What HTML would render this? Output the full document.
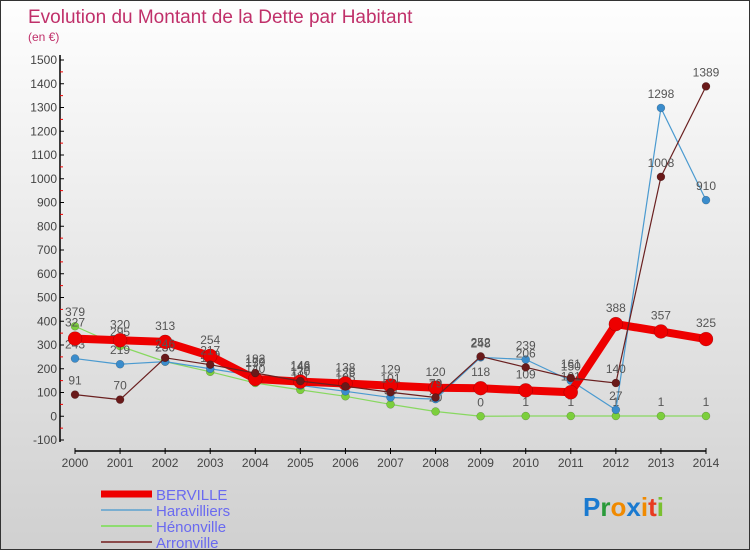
<!DOCTYPE html>
<html><head><meta charset="utf-8">
<style>
html,body{margin:0;padding:0;}
body{width:750px;height:550px;overflow:hidden;font-family:"Liberation Sans",sans-serif;}
#wrap{position:relative;width:748px;height:548px;border:1px solid #333;background:linear-gradient(#fefefe,#d0d0d0);}
</style></head>
<body>
<div id="wrap">
<svg id="chart" width="748" height="548" xmlns="http://www.w3.org/2000/svg"></svg>
</div>
<script>
const years=[2000,2001,2002,2003,2004,2005,2006,2007,2008,2009,2010,2011,2012,2013,2014];
const berville=[327,320,313,254,157,146,138,129,120,118,109,101,388,357,325];
const haravilliers=[243,219,230,200,170,130,105,79,72,248,239,150,27,1298,910];
const henonville=[379,295,230,187,140,111,84,50,20,0,1,1,1,1,1];
const arronville=[91,70,246,217,182,148,126,101,79,252,206,161,140,1008,1389];
const yTicks=[-100,0,100,200,300,400,500,600,700,800,900,1000,1100,1200,1300,1400,1500];

const svg=document.getElementById('chart');
const NS='http://www.w3.org/2000/svg';
const x0=74,x1=705,yTop=59,yBot=439,vMin=-100,vMax=1500;
function X(i){return x0+(x1-x0)*i/(years.length-1);}
function Y(v){return yBot-(v-vMin)*(yBot-yTop)/(vMax-vMin);}
function mk(tag,attrs,parent){const e=document.createElementNS(NS,tag);for(const k in attrs)e.setAttribute(k,attrs[k]);(parent||svg).appendChild(e);return e;}

const title=mk('text',{x:27,y:22,'font-size':19,fill:'#c0306a'});
title.textContent='Evolution du Montant de la Dette par Habitant';


const sub=mk('text',{x:27,y:40,'font-size':12,fill:'#c0306a'});
sub.textContent='(en €)';



const yAxis=mk('g',{});


mk('line',{x1:59,y1:yTop-5,x2:59,y2:yBot+2,stroke:'#000','stroke-width':1.5},yAxis);
yTicks.forEach((t,i)=>{
  const y=Y(t);
  mk('line',{x1:59,y1:y,x2:63,y2:y,stroke:'#000'},yAxis);
  if(i<yTicks.length-1) mk('line',{x1:59,y1:Y(t+50),x2:62,y2:Y(t+50),stroke:'#e00'},yAxis);
  const tx=mk('text',{x:56,y:y+4,'font-size':12,fill:'#444','text-anchor':'end'},yAxis);
  tx.textContent=t;
});
const xAxis=mk('g',{});


mk('line',{x1:x0,y1:450,x2:x1,y2:450,stroke:'#000','stroke-width':1.5},xAxis);
years.forEach((yr,i)=>{
  mk('line',{x1:X(i),y1:447,x2:X(i),y2:453,stroke:'#000'},xAxis);
  const t=mk('text',{x:X(i),y:466,'font-size':12,fill:'#444','text-anchor':'middle'},xAxis);
  t.textContent=yr;
});

function series(name,data,color,w,r,dot,labelDy){
  const g=mk('g',{});
  
  
  mk('polyline',{points:data.map((v,i)=>X(i)+','+Y(v)).join(' '),fill:'none',stroke:color,'stroke-width':w,'stroke-linejoin':'round'},g);
  data.forEach((v,i)=>{
    const c=mk('circle',{cx:X(i),cy:Y(v),r:r,fill:dot,stroke:'rgba(0,0,0,0.3)','stroke-width':0.5},g);
    
    
    const t=mk('text',{x:X(i),y:Y(v)+labelDy,'font-size':12,fill:'#555','text-anchor':'middle'},g);
    t.textContent=v;
  });
}
series('henonville',henonville,'#88d860',1.2,4,'#7ccf3c',-10);
series('haravilliers',haravilliers,'#4a9ad0',1.2,4,'#3a8ccc',-10);
series('berville',berville,'#ee0000',8,7,'#ee0000',-12);
series('arronville',arronville,'#6a2020',1.2,4,'#6a1a1a',-10);

const leg=[['BERVILLE','#ee0000',7],['Haravilliers','#7aaed0',2],['Hénonville','#8edc70',2],['Arronville','#8a4a4a',2]];
leg.forEach((l,i)=>{
  const g=mk('g',{});
  
  
  const y=493+i*16;
  mk('line',{x1:100,y1:y,x2:151,y2:y,stroke:l[1],'stroke-width':l[2]},g);
  const t=mk('text',{x:155,y:y+6,'font-size':15,fill:'#6a6af0'},g);
  t.textContent=l[0];
});
const logo=mk('text',{x:582,y:515,'font-size':26,'font-weight':'bold',fill:'#1a7ad0'});


logo.innerHTML='<tspan fill="#1a7ad0">P</tspan><tspan fill="#2a9a3a">r</tspan><tspan fill="#f08a00">o</tspan><tspan fill="#1a7ad0">x</tspan><tspan fill="#f08a00">i</tspan><tspan fill="#e83a20">t</tspan><tspan fill="#7ac030">i</tspan>';
</script>
</body></html>
